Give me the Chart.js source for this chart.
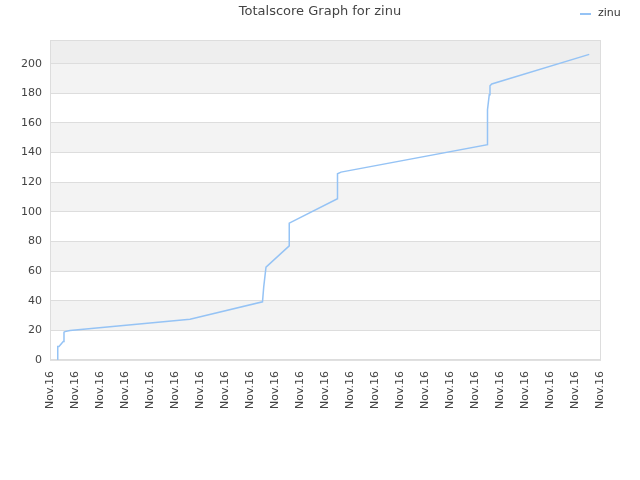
<!DOCTYPE html>
<html>
<head>
<meta charset="utf-8">
<script src="https://cdn.jsdelivr.net/npm/chart.js@4"></script>
<style>
  html, body { margin: 0; padding: 0; background: #fff; }
  #wrap { width: 640px; height: 480px; }
</style>
</head>
<body>
<div id="wrap"><canvas id="score-chart" width="640" height="480"></canvas></div>
<script>
// 数据
const seriesName = 'zinu';
const tickLabel = 'Nov.16';
const xValues = [0.31, 0.31, 0.36, 0.53, 0.56, 0.6, 0.8, 5.6, 8.5, 8.55, 8.64, 9.57, 9.57, 11.5, 11.5, 11.64, 17.5, 17.5, 17.57, 17.6, 17.67, 21.57];
const yValues = [0, 9, 9, 12.4, 18.7, 19.1, 19.8, 27.5, 39.2, 49.5, 62.6, 77, 92.3, 108.8, 125.7, 126.8, 145.3, 168.9, 179, 185.1, 186.3, 206.3];
const yTicks = [0, 20, 40, 60, 80, 100, 120, 140, 160, 180, 200];
const lineColor = '#95c3f5';

// 背景条纹 + 边框 + 标题 + 图例
const bandPlugin = {
  id: 'bands',
  beforeDraw(chart) {
    const { ctx, chartArea: a, scales: { y } } = chart;
    ctx.save();
    for (let i = 0; i < yTicks.length; i++) {
      const lo = yTicks[i];
      const hi = i + 1 < yTicks.length ? yTicks[i + 1] : y.max;
      let color = i % 2 === 1 ? '#f3f3f3' : '#ffffff';
      if (i === yTicks.length - 1) color = '#eeeeee';
      const top = y.getPixelForValue(hi);
      const bot = y.getPixelForValue(lo);
      ctx.fillStyle = color;
      ctx.fillRect(a.left, top, a.right - a.left, bot - top);
    }
    ctx.restore();
  },
  afterDraw(chart) {
    const { ctx, chartArea: a } = chart;
    ctx.save();
    ctx.strokeStyle = '#dddddd';
    ctx.lineWidth = 1;
    ctx.strokeRect(a.left + 0.5, a.top + 0.5, a.right - a.left, a.bottom - a.top);
    // 标题
    ctx.fillStyle = '#444';
    ctx.font = '13px "DejaVu Sans", sans-serif';
    ctx.textAlign = 'center';
    ctx.textBaseline = 'middle';
    ctx.fillText('Totalscore Graph for ' + seriesName, 320, 12);
    // 图例
    ctx.strokeStyle = lineColor;
    ctx.lineWidth = 2;
    ctx.beginPath();
    ctx.moveTo(580, 14);
    ctx.lineTo(591, 14);
    ctx.stroke();
    ctx.fillStyle = '#333';
    ctx.font = '11px "DejaVu Sans", sans-serif';
    ctx.textAlign = 'left';
    ctx.fillText(seriesName, 598, 13);
    ctx.restore();
  }
};

const ctx = document.getElementById('score-chart').getContext('2d');
new Chart(ctx, {
  type: 'line',
  data: {
    datasets: [{
      label: seriesName,
      data: xValues.map((x, i) => ({ x: x, y: yValues[i] })),
      borderColor: lineColor,
      backgroundColor: lineColor,
      borderWidth: 1.5,
      pointRadius: 0,
      fill: false,
      tension: 0
    }]
  },
  options: {
    responsive: false,
    animation: false,
    layout: { padding: { top: 40, right: 40, bottom: 68, left: 13 } },
    scales: {
      x: {
        type: 'linear',
        min: 0,
        max: 22,
        grid: { display: false },
        border: { display: false },
        ticks: {
          stepSize: 1,
          autoSkip: false,
          minRotation: 90,
          maxRotation: 90,
          color: '#444',
          font: { size: 11, family: '"DejaVu Sans", sans-serif' },
          callback: () => tickLabel
        }
      },
      y: {
        min: 0,
        max: 216,
        afterBuildTicks(scale) { scale.ticks = yTicks.map(v => ({ value: v })); },
        grid: { color: '#dddddd', drawTicks: false },
        border: { display: false },
        ticks: {
          padding: 8,
          color: '#444',
          font: { size: 11, family: '"DejaVu Sans", sans-serif' }
        }
      }
    },
    plugins: {
      title: { display: false },
      tooltip: { enabled: false },
      legend: { display: false }
    }
  },
  plugins: [bandPlugin]
});
</script>
</body>
</html>
